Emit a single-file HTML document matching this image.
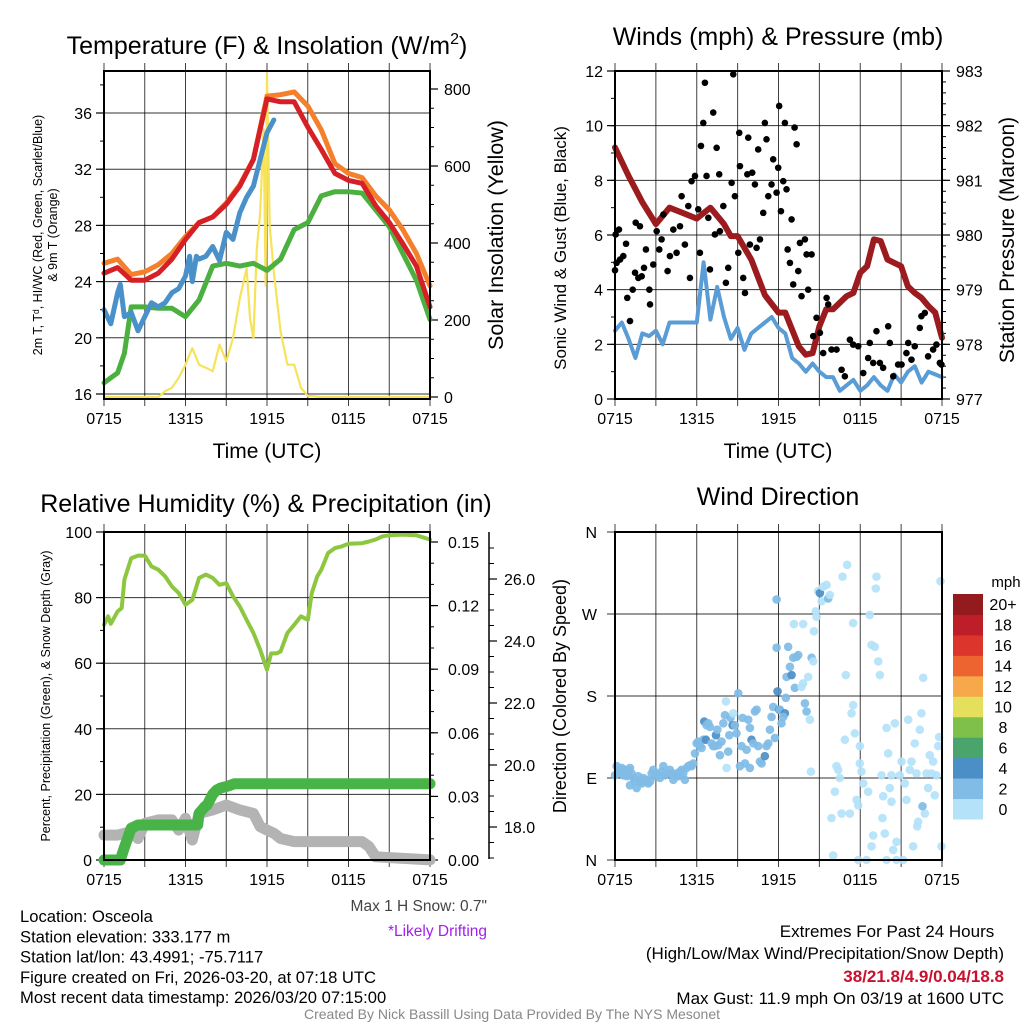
<!DOCTYPE html>
<html><head><meta charset="utf-8"><style>
html,body{margin:0;padding:0;background:#fff}
svg{display:block;font-family:"Liberation Sans",Arial,sans-serif}
</style></head><body>
<svg id="c" width="1024" height="1024" viewBox="0 0 1024 1024" xmlns="http://www.w3.org/2000/svg">
<rect width="1024" height="1024" fill="#fff"/>
</svg>
<script>
// ---------- DATA ----------
const hours = [0,1,2,3,4,5,6,7,8,9,10,11,12,13,14,15,16,17,18,19,20,21,22,23,24];
const tempRed = [24.6,25.0,24.1,24.1,24.6,25.6,27.0,28.2,28.6,29.5,30.8,32.7,37.0,36.8,36.8,35.0,33.4,31.7,31.2,31.0,29.4,28.2,26.7,25.1,22.2];
const temp9m = [25.3,25.6,24.5,24.7,25.2,26.0,27.2,28.2,28.6,29.6,30.9,32.7,37.2,37.3,37.5,36.5,34.8,32.4,31.7,31.4,30.1,29.1,27.7,26.0,23.7];
const dewTimes = [0,1,1.5,2,3,4,5,6,7,8,9,10,11,12,13,14,15,16,17,18,19,20,21,22,23,24];
const dewGreen = [16.8,17.5,18.9,22.2,22.2,22.1,22.1,21.5,22.7,25.1,25.3,25.1,25.3,24.8,25.6,27.7,28.2,30.1,30.4,30.4,30.3,29.1,27.9,26.0,24.1,21.3];
const wcTimes = [0,0.5,1,1.2,1.5,2,2.5,3,3.5,4,4.5,5,5.5,6,6.3,6.5,6.8,7,7.5,8,8.5,9,9.5,10,10.5,11,11.5,12,12.5];
const windChill = [22.0,21.0,23.2,23.8,21.5,21.8,20.5,21.5,22.5,22.2,22.5,23.2,23.5,24.4,25.8,24.0,25.8,25.6,25.8,26.5,25.5,27.5,27.0,28.9,30.0,30.8,32.7,34.6,35.5];
const solarTimes = [0,4,4.5,5,5.5,6,6.5,7,7.5,8,8.5,9,9.5,10,10.5,10.75,11,11.25,11.5,11.75,11.9,12,12.2,12.5,13,13.5,14,14.5,15,16,24];
const solar = [0,0,15,24,50,84,127,84,76,67,136,93,153,256,334,205,153,385,480,695,290,841,445,325,170,84,84,24,3,0,0];

const windTimes = [0,0.5,1,1.5,2,2.5,3,3.5,4,5,6,6.5,7,7.5,8,8.5,9,9.5,10,10.5,11,11.5,12,12.5,13,13.5,14,14.5,15,15.5,16,16.5,17,17.5,18,18.5,19,19.5,20,20.5,21,21.5,22,22.5,23,23.5,24];
const windSpeed = [2.5,2.8,2.2,1.5,2.4,2.3,2.5,2.0,2.8,2.8,2.8,5.0,2.9,4.1,3.0,2.2,2.6,1.8,2.4,2.6,2.8,3.0,2.6,2.4,1.5,1.3,1.0,1.3,1.0,0.8,0.8,0.3,0.5,0.7,0.3,0.5,0.8,0.5,0.3,0.9,0.6,1.0,1.2,0.6,1.0,0.9,0.8];
const presTimes = [0,1,2,3,4,5,6,6.5,7,8,8.5,9,10,11,12,12.5,13,13.5,14,14.5,15,15.5,16,17,17.5,18,18.5,19,19.5,20,21,21.5,22,22.5,23,23.5,24];
const pressure = [981.6,981.08,980.6,980.2,980.5,980.4,980.3,980.4,980.5,980.2,979.98,979.98,979.55,978.9,978.58,978.58,978.27,977.96,977.81,977.84,978.33,978.64,978.64,978.88,978.94,979.31,979.43,979.92,979.89,979.55,979.43,979.06,978.94,978.85,978.70,978.58,978.12];
const gustTimes = [0,0.05,0.29,0.12,0.37,0.61,0.81,0.9,1.1,1.3,1.47,1.52,1.71,1.83,1.96,2.13,2.27,2.52,2.57,2.81,3.06,3.25,3.42,3.55,3.86,4.03,4.28,4.52,4.77,4.89,5.13,5.38,5.5,5.62,5.87,6.11,6.23,6.31,6.48,6.6,6.72,6.85,6.97,7.21,7.33,7.46,7.65,7.7,7.95,8.14,8.31,8.56,8.68,8.8,9.05,9.12,9.17,9.41,9.54,9.71,9.78,9.9,10.07,10.27,10.39,10.51,10.64,10.88,11.0,11.12,11.25,11.49,11.61,11.86,11.98,12.05,12.18,12.35,12.47,12.59,12.67,12.84,12.96,13.08,13.18,13.33,13.45,13.57,13.69,13.94,14.06,14.18,14.43,14.55,14.79,15.04,15.28,15.53,15.65,15.89,16.26,16.63,16.87,17.24,17.48,17.85,18.22,18.58,18.7,18.95,19.19,19.44,19.68,20.05,20.17,20.42,20.78,21.03,21.39,21.52,21.76,22.0,22.37,22.49,22.74,22.98,23.35,23.59,23.84,23.96];
const gustSpeed = [4.71,6.02,6.2,4.98,5.1,5.23,5.68,3.7,2.85,4.0,4.62,6.45,4.43,6.32,4.49,4.8,5.47,4.0,3.46,4.92,6.14,5.47,5.84,6.75,4.68,5.23,6.2,5.35,6.32,7.42,5.65,7.06,4.43,7.97,8.16,6.94,5.35,9.26,10.1,11.57,8.16,6.63,4.74,10.48,6.02,9.19,8.22,6.14,7.06,4.25,4.8,7.91,11.88,7.42,5.35,9.74,8.52,4.43,3.88,8.22,9.56,5.65,8.28,7.85,5.53,9.13,5.84,6.81,10.1,9.5,7.42,7.85,8.77,7.55,8.46,10.72,6.87,7.97,10.1,7.67,5.47,4.98,6.57,4.19,9.93,9.32,4.68,5.71,3.76,5.84,5.29,4.0,5.29,2.3,2.97,2.42,1.68,3.7,3.46,1.81,1.81,1.07,0.83,2.17,1.99,1.93,0.95,1.5,2.05,1.32,2.48,1.32,1.14,2.66,2.05,0.83,1.26,1.26,1.68,2.05,1.44,1.93,2.6,3.03,3.15,1.56,1.81,1.99,1.32,1.26];

const rhTimes = [0,0.3,0.5,1,1.3,1.5,2,2.5,3,3.5,4,4.5,5,5.5,6,6.5,7,7.5,8,8.5,9,9.5,10,10.5,11,11.5,12,12.3,12.7,13,13.5,14,14.5,15,15.3,15.7,16,16.5,17,17.5,18,19,19.5,20,20.5,21,22,23,24];
const rh = [71.7,74.3,72,75.8,76.8,85.5,92,92.8,92.8,89.5,88.5,86.5,83.4,81.4,77.8,79.3,86,87,86,83.9,84.4,80.4,77.3,73.2,69.2,64.1,58,63,63,63.6,69.2,71.7,74.3,73.2,81.4,86.5,88.5,93.6,95.1,95.6,96.4,96.6,97.1,97.7,98.7,99,99.2,99,97.7];
const precipTimes = [0,1.2,1.5,2,2.5,6.9,7.0,7.4,7.6,8.0,8.3,8.6,9.2,9.6,24];
const precip = [0,0,0.006,0.015,0.0165,0.0165,0.022,0.025,0.026,0.031,0.033,0.034,0.035,0.036,0.036];
const snowTimes = [0,1,2,2.5,3,4,5,5.5,6,6.5,7,8,9,10,11,11.5,12,12.5,13,14,15,19,19.5,20,24];
const snowDepth = [17.74,17.74,17.85,17.63,18.12,18.23,18.23,17.9,18.28,17.58,18.44,18.55,18.71,18.55,18.44,18.01,17.9,17.8,17.63,17.53,17.53,17.53,17.37,17.04,16.94];

const dirTimes = [0,0.12,0.24,0.37,0.49,0.61,0.73,0.86,0.98,1.1,1.22,1.1,1.34,1.47,1.59,1.71,1.83,1.96,2.08,2.2,2.32,2.44,2.57,2.69,2.81,2.93,3.06,3.3,3.42,3.55,3.67,3.79,4.03,4.16,4.28,4.4,4.52,4.65,4.77,4.89,5.01,5.13,5.26,5.38,5.5,5.62,5.75,5.87,5.99,6.11,6.23,6.36,6.48,6.55,6.67,6.72,6.85,6.97,7.09,7.21,7.33,7.41,7.51,7.58,7.7,7.82,7.95,8.07,8.14,8.19,8.31,8.39,8.48,8.63,8.68,8.8,8.92,9.05,9.17,9.29,9.36,9.54,9.66,9.78,9.9,9.9,10.02,10.15,10.27,10.39,10.51,10.64,10.76,11.0,11.12,11.25,11.37,11.49,11.61,11.74,11.86,11.86,11.93,12.05,12.1,12.22,12.47,12.35,12.54,12.59,12.71,12.84,12.96,13.08,13.2,13.33,13.45,13.69,13.81,13.94,14.06,14.18,14.3,14.43,14.38,14.55,14.6,14.74,14.79,14.91,15.04,15.16,15.28,15.53,15.65,15.77,13.13,13.81,
16.01,15.89,16.14,16.26,16.38,16.5,16.63,16.87,16.94,16.7,17.04,17.24,17.36,17.48,17.48,17.6,17.73,17.85,17.85,17.97,17.97,18.09,18.22,18.46,18.58,18.7,18.83,18.83,18.95,19.07,19.14,19.19,19.32,19.44,19.56,19.63,19.68,19.8,19.93,19.93,20.05,20.17,20.29,20.29,20.42,20.54,20.66,20.66,20.9,21.03,21.15,21.27,21.39,21.52,21.64,21.76,21.88,22.0,22.13,22.18,22.25,22.37,22.49,22.62,22.74,22.86,22.98,23.1,23.23,23.35,23.47,23.59,23.72,23.79,23.89,23.96,22.57];
const dirDeg = [93,103,95,99,101,93,99,92,99,101,95,82,90,86,79,92,86,84,90,86,88,84,86,95,99,92,95,90,97,103,93,95,99,95,88,92,95,92,97,99,95,88,101,103,104,103,106,117,128,130,125,123,132,152,132,148,150,146,128,125,125,137,143,126,115,130,150,159,174,101,119,137,156,148,161,148,139,183,103,125,156,106,121,154,145,101,132,128,163,165,125,108,106,114,125,128,143,157,168,134,233,286,185,165,165,150,161,157,178,201,234,212,203,222,189,223,225,190,194,172,163,201,154,222,97,218,251,273,267,295,293,284,300,302,287,291,259,259,
5,46,75,103,99,90,51,132,203,311,324,51,161,170,260,139,66,0,60,125,106,97,84,0,75,269,236,15,27,234,298,311,218,203,93,46,70,29,145,0,117,79,64,93,11,150,20,0,93,108,0,84,66,154,99,108,15,128,95,37,42,143,161,200,51,95,79,115,95,108,71,93,125,135,306,15,59];
const dirSpeed = [3,3,3,3,3,3,3,3,3,3,3,3,3,3,3,3,3,3,3,3,3,3,3,3,3,3,3,3,3,3,3,3,3,3,3,3,3,3,3,3,3,3,3,3,3,3,3,3,3,3,3,3,3,5,5,3,3,3,3,3,3,5,3,3,3,3,3,3,1,1,3,3,3,5,1,3,3,3,3,3,3,3,3,3,3,3,5,3,3,3,3,3,3,5,3,3,3,3,3,3,3,3,5,5,3,3,5,3,3,3,3,3,5,3,3,3,3,1,1,3,3,1,1,3,1,1,1,1,1,1,5,1,1,1,3,1,1,1,
1,1,1,1,1,1,1,1,1,1,1,1,1,1,1,1,1,1,1,1,1,1,1,1,1,1,1,1,1,1,1,1,1,1,1,1,1,1,1,1,1,1,1,1,1,1,1,1,1,1,1,1,1,1,1,1,1,1,1,1,1,1,1,1,1,1,1,1,1,1,1,1,1,1,1,1,3];
const speedBins = ['0','2','4','6','8','10','12','14','16','18','20+'];
const speedColors = ['#b4e2f8','#80bce6','#4c8fc7','#4aa56c','#7fc04b','#e4e05c','#f6a84b','#ee6430','#dc352b','#bd1e27','#931a1d'];
const xTickLabels = ['0715','1315','1915','0115','0715'];

// ---------- HELPERS ----------
const svg = document.getElementById('c');
const NS = 'http://www.w3.org/2000/svg';
function mk(tag, attrs, parent){
  const e = document.createElementNS(NS, tag);
  for (const k in attrs) e.setAttribute(k, attrs[k]);
  (parent||svg).appendChild(e);
  return e;
}
function txt(x,y,s,size,anchor,parent,extra){
  const t = mk('text', Object.assign({x:x,y:y,'font-size':size,'text-anchor':anchor||'middle',fill:'#000'}, extra||{}), parent);
  t.textContent = s;
  return t;
}
function xScale(p,t){ return p.x0 + t*(p.x1-p.x0)/24; }
function linScale(v0,v1,p0,p1){ return v => p0 + (v-v0)*(p1-p0)/(v1-v0); }
function polyline(p, times, vals, ys, color, w, name, g){
  let pts = times.map((t,i)=> xScale(p,t).toFixed(1)+','+ys(vals[i]).toFixed(1)).join(' ');
  const e = mk('polyline',{points:pts,fill:'none',stroke:color,'stroke-width':w,'stroke-linejoin':'round','stroke-linecap':'round'},g);
  
  
  return e;
}
function frame(p, name){
  const g = mk('g',{});
  
  
  for (let h=0; h<=24; h+=3){
    const x = xScale(p,h);
    mk('line',{x1:x,y1:p.y0-8,x2:x,y2:p.y1+7,stroke:'#000','stroke-width':1,'stroke-opacity':0.75},g);
  }
  xTickLabels.forEach((lab,i)=>{
    const t = txt(xScale(p,i*6), p.y1+25, lab, 16, 'middle', g);
    
    
  });
  return g;
}
function yAxis(p, g, ys, vmin, vmax, step, minor, side, fmt, grid, lx){
  const x = side==='left'? p.x0 : p.x1;
  const dir = side==='left'? -1 : 1;
  for (let v=vmin; v<=vmax+1e-9; v+=minor){
    const y = ys(v);
    if (y < p.y0-1 || y > p.y1+1) continue;
    mk('line',{x1:x,y1:y,x2:x+dir*4,y2:y,stroke:'#000','stroke-width':1},g);
  }
  for (let v=vmin; v<=vmax+1e-9; v+=step){
    const y = ys(v);
    mk('line',{x1:x,y1:y,x2:x+dir*8,y2:y,stroke:'#000','stroke-width':1.2},g);
    if (grid) mk('line',{x1:p.x0,y1:y,x2:p.x1,y2:y,stroke:'#000','stroke-width':1,'stroke-opacity':0.8},g);
    const t = txt(lx!==undefined?lx:(x+dir*12), y+6, fmt(v), 16, side==='left'?'end':'start', g);
    
    
  }
}
function box(p,g){
  mk('rect',{x:p.x0,y:p.y0,width:p.x1-p.x0,height:p.y1-p.y0,fill:'none',stroke:'#000','stroke-width':2},g);
}
function rotLabel(x,y,s,size,name){
  const t = txt(x,y,s,size,'middle',svg,{transform:'rotate(-90 '+x+' '+y+')'});
  
  
  return t;
}

// ---------- PANEL 1 ----------
const p1 = {x0:104,x1:430,y0:71,y1:399};
const g1 = frame(p1,'temperature-panel');
const yT = linScale(16,36,394,113);
const yS = linScale(0,800,397,89);
yAxis(p1,g1,yT,16,38,4,2,'left',v=>String(v),true);
yAxis(p1,g1,yS,0,800,200,50,'right',v=>String(v),false,444);
polyline(p1,solarTimes,solar,yS,'#f7e35a',2.2,'solar-insolation-line',g1);
polyline(p1,dewTimes,dewGreen,yT,'#4bb040',5,'dewpoint-line',g1);
polyline(p1,wcTimes,windChill,yT,'#4a90c9',5,'wind-chill-line',g1);
polyline(p1,hours,temp9m,yT,'#f57f2a',5,'temp-9m-line',g1);
polyline(p1,hours,tempRed,yT,'#d62027',5,'temp-2m-line',g1);
box(p1,g1);
let t;
t = txt(267,54,'Temperature (F) & Insolation (W/m',25,'middle');


const sup = mk('tspan',{dy:-10,'font-size':16},t); sup.textContent='2';
const cl = mk('tspan',{dy:10},t); cl.textContent=')';
t = txt(267,458,'Time (UTC)',21,'middle');


rotLabel(42,235,'2m T, T\u1D48, HI/WC (Red, Green, Scarlet/Blue)',12.5,'temp-y-axis-title');
rotLabel(57,235,'& 9m T (Orange)',12.5,'temp-y-axis-title-2');
rotLabel(503,235,'Solar Insolation (Yellow)',21.5,'solar-y-axis-title');

// ---------- PANEL 2 ----------
const p2 = {x0:615,x1:942,y0:71,y1:399};
const g2 = frame(p2,'winds-panel');
const yW = linScale(0,12,399,71);
const yP = linScale(977,983,399,71);
yAxis(p2,g2,yW,0,12,2,1,'left',v=>String(v),true);
yAxis(p2,g2,yP,977,983,1,0.2,'right',v=>String(v),false,956);
polyline(p2,windTimes,windSpeed,yW,'#5a9cd5',4,'sonic-wind-line',g2);
polyline(p2,presTimes,pressure,yP,'#9b1b1e',6,'pressure-line',g2);
gustTimes.forEach((tm,i)=>{
  const c = mk('circle',{cx:xScale(p2,tm),cy:yW(gustSpeed[i]),r:3.3,fill:'#000'},g2);
  
  
});
box(p2,g2);
t = txt(778,45,'Winds (mph) & Pressure (mb)',25,'middle');


t = txt(778,458,'Time (UTC)',21,'middle');


rotLabel(566,248,'Sonic Wind & Gust (Blue, Black)',17,'wind-y-axis-title');
rotLabel(1014,240,'Station Pressure (Maroon)',21,'pressure-y-axis-title');

// ---------- PANEL 3 ----------
const p3 = {x0:104,x1:430,y0:532,y1:860};
const g3 = frame(p3,'humidity-panel');
const yRH = linScale(0,100,860,532);
const yPr = linScale(0,0.15,860,542);
const ySn = linScale(18,26,827,579);
yAxis(p3,g3,yRH,0,100,20,10,'left',v=>String(v),true);
yAxis(p3,g3,yPr,0,0.15,0.03,0.01,'right',v=>v.toFixed(2),false,448);
mk('line',{x1:489,y1:532,x2:489,y2:859,stroke:'#000','stroke-width':1.5},g3);
for (let v=17; v<=27.01; v+=0.5){ const y=ySn(v); if(y<532||y>859) continue; mk('line',{x1:489,y1:y,x2:494,y2:y,stroke:'#000','stroke-width':1},g3); }
for (let v=18; v<=26.01; v+=2){
  const y=ySn(v);
  mk('line',{x1:489,y1:y,x2:497,y2:y,stroke:'#000','stroke-width':1.2},g3);
  const s = txt(504,y+6,v.toFixed(1),16,'start',g3);
  
  
}
polyline(p3,rhTimes,rh,yRH,'#8dc63f',4,'humidity-line',g3);
polyline(p3,snowTimes,snowDepth,ySn,'#b3b3b3',11,'snow-depth-line',g3);
polyline(p3,precipTimes,precip,yPr,'#48b447',11,'precipitation-line',g3);
box(p3,g3);
t = txt(266,512,'Relative Humidity (%) & Precipitation (in)',25,'middle');


rotLabel(50,696,'Percent, Precipitation (Green), & Snow Depth (Gray)',12.5,'humidity-y-axis-title');
t = txt(487,911,'Max 1 H Snow: 0.7"',15.5,'end',svg,{fill:'#444'});


t = txt(487,936,'*Likely Drifting',15.5,'end',svg,{fill:'#a020f0'});



// ---------- PANEL 4 ----------
const p4 = {x0:615,x1:942,y0:532,y1:860};
const g4 = frame(p4,'wind-direction-panel');
const yD = linScale(0,360,860,532);
const dirLabs = ['N','E','S','W','N'];
dirLabs.forEach((l,i)=>{
  const y = yD(i*90);
  mk('line',{x1:p4.x0-8,y1:y,x2:p4.x1,y2:y,stroke:'#000','stroke-width':1,'stroke-opacity':0.8},g4);
  const s = txt(597,y+6,l,16,'end',g4);
  
  
});
dirTimes.forEach((tm,i)=>{
  const ci = Math.min(10, Math.floor(dirSpeed[i]/2));
  const c = mk('circle',{cx:xScale(p4,tm),cy:yD(dirDeg[i]),r:4.3,fill:speedColors[ci],'fill-opacity':0.92},g4);
  
  
});
box(p4,g4);
t = txt(778,505,'Wind Direction',25,'middle');


rotLabel(566,696,'Direction (Colored By Speed)',18,'direction-y-axis-title');
const cb = mk('g',{});


const cbTop=594, cbBot=819, binH=(cbBot-cbTop)/speedBins.length;
speedBins.forEach((lab,i)=>{
  const y = cbBot - (i+1)*binH;
  const r = mk('rect',{x:953,y:y,width:30,height:binH+0.5,fill:speedColors[i]},cb);
  
  
  const s = txt(1003,y+binH/2+6,lab,16,'middle',cb);
  
  
});
t = txt(1006,587,'mph',15,'middle',cb);



// ---------- FOOTER ----------
const info = ['Location: Osceola','Station elevation: 333.177 m','Station lat/lon: 43.4991; -75.7117','Figure created on Fri, 2026-03-20, at 07:18 UTC','Most recent data timestamp: 2026/03/20 07:15:00'];
info.forEach((s,i)=>{
  const e = txt(20,922+i*20.3,s,16.6,'start');
  
  
});
t = txt(887,937,'Extremes For Past 24 Hours',17,'middle');


t = txt(1004,959,'(High/Low/Max Wind/Precipitation/Snow Depth)',17,'end');


t = txt(1004,982,'38/21.8/4.9/0.04/18.8',17,'end',svg,{fill:'#c8102e','font-weight':'bold'});


t = txt(1004,1004,'Max Gust: 11.9 mph On 03/19 at 1600 UTC',17,'end');


t = txt(512,1019,'Created By Nick Bassill Using Data Provided By The NYS Mesonet',14,'middle',svg,{fill:'#888'});


</script>
</body></html>
